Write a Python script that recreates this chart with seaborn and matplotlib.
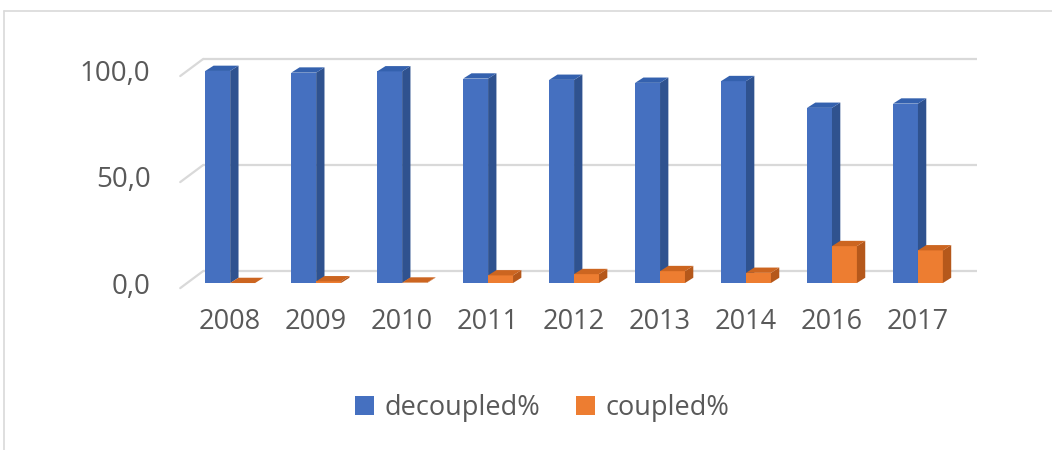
import numpy as np
import pandas as pd
import matplotlib
matplotlib.use("Agg")
import matplotlib.pyplot as plt
import seaborn as sns
from matplotlib.patches import Polygon, Rectangle
from matplotlib.lines import Line2D

# ---------------- data ----------------
years = ["2008", "2009", "2010", "2011", "2012", "2013", "2014", "2016", "2017"]
decoupled = [100.0, 99.2, 99.8, 96.4, 95.8, 94.4, 95.2, 82.6, 84.6]
coupled = [0.0, 0.8, 0.2, 3.6, 4.2, 5.6, 4.8, 17.4, 15.4]
series_names = ["decoupled%", "coupled%"]
tick_values = [0, 50, 100]
tick_labels = ["0,0", "50,0", "100,0"]

df = pd.DataFrame({
    "year": years * 2,
    "value": decoupled + coupled,
    "series": [series_names[0]] * len(years) + [series_names[1]] * len(years),
})

# ---------------- style ----------------
sns.set_theme(style="white")
plt.rcParams['font.family'] = ['Open Sans', 'DejaVu Sans']
TXT = "#595959"
GRID = "#d9d9d9"
front_col = {series_names[0]: "#4570C0", series_names[1]: "#ED7D31"}
side_col = {series_names[0]: "#2F528F", series_names[1]: "#B5581B"}
top_col = {series_names[0]: "#3461AE", series_names[1]: "#CC6520"}

W, H = 1052, 450
fig = plt.figure(figsize=(W / 100, H / 100), dpi=100)
ax = fig.add_axes([170 / W, 150 / H, 815 / W, 260 / H])

sns.barplot(data=df, x="year", y="value", hue="series", hue_order=series_names,
            palette=front_col, width=0.58, saturation=1, ax=ax, legend=False,
            linewidth=0, errorbar=None)

ax.set_xlim(-0.70, 8.78)
ax.set_ylim(-8, 114.6)

# 3D faces derived from the bar patches
dx, dy = 0.097, 2.5
hex_to_name = {matplotlib.colors.to_hex(v): k for k, v in front_col.items()}
for p in list(ax.patches):
    name = hex_to_name.get(matplotlib.colors.to_hex(p.get_facecolor()))
    if name is None:
        continue
    base_z = 3 if name == series_names[0] else 5
    p.set_zorder(base_z)
    x0, y0, w, h = p.get_x(), p.get_y(), p.get_width(), p.get_height()
    side = Polygon([(x0 + w, y0), (x0 + w + dx, y0 + dy), (x0 + w + dx, y0 + h + dy), (x0 + w, y0 + h)],
                   closed=True, facecolor=side_col[name], edgecolor="none", zorder=base_z + 0.5)
    top = Polygon([(x0, y0 + h), (x0 + dx, y0 + h + dy), (x0 + w + dx, y0 + h + dy), (x0 + w, y0 + h)],
                  closed=True, facecolor=top_col[name], edgecolor="none", zorder=base_z + 0.6)
    ax.add_patch(side)
    ax.add_patch(top)

# back-wall gridlines with small floor diagonals
for v in tick_values:
    ax.plot([-0.314, 8.686], [v + 5.66, v + 5.66], color=GRID, lw=1.6, zorder=1,
            solid_capstyle="butt")
    ax.plot([-0.581, -0.314], [v - 2.4, v + 5.66], color=GRID, lw=1.6, zorder=1)

for s in ax.spines.values():
    s.set_visible(False)
ax.grid(False)
ax.set_xlabel("")
ax.set_ylabel("")
ax.set_yticks(tick_values, tick_labels)
ax.tick_params(axis="y", length=0, pad=14, labelsize=20, labelcolor=TXT)
ax.tick_params(axis="x", length=0, pad=6, labelsize=19.5, labelcolor=TXT)

# legend
handles = [Rectangle((0, 0), 1, 1, facecolor=front_col[n], edgecolor="none") for n in series_names]
fig.legend(handles, series_names, loc="center", bbox_to_anchor=(542 / W, 1 - 408 / H),
           ncol=2, frameon=False, fontsize=19.5, labelcolor=TXT,
           handlelength=0.7, handleheight=0.7, handletextpad=0.4, columnspacing=1.3)

# chart border (top and left visible)
fig.add_artist(Line2D([4 / W, 1.0], [1 - 11 / H, 1 - 11 / H], color=GRID, lw=1.2,
                      transform=fig.transFigure))
fig.add_artist(Line2D([4 / W, 4 / W], [0, 1 - 11 / H], color=GRID, lw=1.2,
                      transform=fig.transFigure))

fig.savefig("out.png", dpi=100, facecolor="white")
